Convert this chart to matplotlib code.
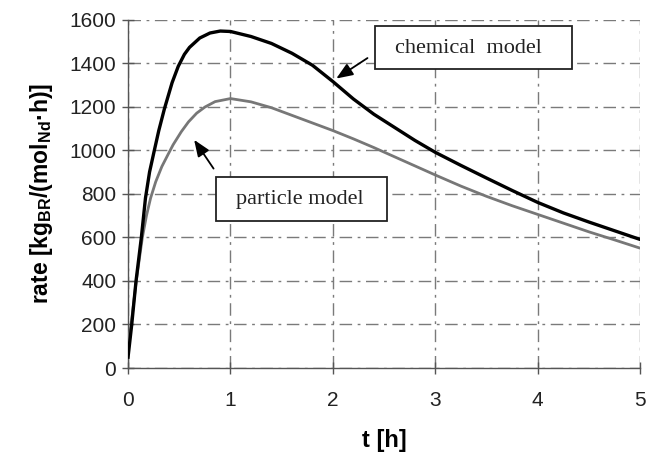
import matplotlib
matplotlib.use("Agg")
import matplotlib.pyplot as plt
from matplotlib.patches import Rectangle

plt.rcParams['font.family'] = 'Liberation Sans'
plt.rcParams['mathtext.fontset'] = 'custom'
plt.rcParams['mathtext.rm'] = 'Liberation Sans:bold'
plt.rcParams['mathtext.bf'] = 'Liberation Sans:bold'
plt.rcParams['mathtext.default'] = 'bf'

# tempo de reacao [h] e taxa para o modelo quimico
t_chem = [0, 0.036, 0.078, 0.13, 0.17, 0.21, 0.257, 0.3, 0.355, 0.43, 0.49, 0.55, 0.6,
          0.7, 0.8, 0.9, 1.0, 1.2, 1.4, 1.6, 1.8, 2.0, 2.2, 2.4, 2.6, 2.8, 3.0, 3.25,
          3.5, 3.75, 4.0, 4.25, 4.5, 4.75, 5.0]
rate_chem = [50, 200, 400, 600, 780, 900, 1000, 1090, 1190, 1310, 1385, 1440, 1472,
             1515, 1538, 1547, 1545, 1522, 1490, 1445, 1390, 1315, 1235, 1165, 1105, 1045, 990, 930,
             872, 815, 760, 712, 670, 630, 590]

# modelo de particula
t_part = [0, 0.03, 0.08, 0.14, 0.18, 0.22, 0.27, 0.33, 0.39, 0.44, 0.52, 0.59, 0.67,
          0.75, 0.85, 1.0, 1.2, 1.4, 1.6, 1.8, 2.0, 2.2, 2.4, 2.6, 2.8, 3.0, 3.25,
          3.5, 3.75, 4.0, 4.25, 4.5, 4.75, 5.0]
rate_part = [100, 200, 400, 600, 700, 780, 855, 925, 980, 1025, 1085, 1130, 1170,
             1198, 1223, 1237, 1222, 1195, 1160, 1125, 1090, 1052, 1012, 970, 928, 886, 835,
             788, 745, 705, 665, 625, 588, 550]

xticks = [0, 1, 2, 3, 4, 5]
yticks = [0, 200, 400, 600, 800, 1000, 1200, 1400, 1600]

fig = plt.figure(figsize=(6.5, 4.61), dpi=100)
ax = fig.add_axes([0.197, 0.2017, 0.788, 0.756])

# grade tracejada estilo "traço longo-ponto"
ax.grid(True, color='#7a7a7a', linewidth=1.0, linestyle=(0, (9, 4, 2, 4)))
ax.set_axisbelow(True)

ax.plot(t_part, rate_part, color='#777777', linewidth=2.0, zorder=3)
ax.plot(t_chem, rate_chem, color='black', linewidth=2.4, zorder=4)

ax.set_xlim(0, 5)
ax.set_ylim(0, 1600)
ax.set_xticks(xticks)
ax.set_yticks(yticks)

for lado in ['top', 'right']:
    ax.spines[lado].set_visible(False)
for lado in ['left', 'bottom']:
    ax.spines[lado].set_color('#555555')
    ax.spines[lado].set_linewidth(1.0)

ax.tick_params(direction='inout', length=9, width=1.0, color='#555555',
               labelsize=15, labelcolor='#222222', pad=4)
ax.tick_params(axis='x', pad=12)

ax.set_xlabel('t [h]', fontsize=17, fontweight='bold', labelpad=14)
ax.set_ylabel('rate [kg$_{BR}$/(mol$_{Nd}$·h)]', fontsize=16.5, fontweight='bold', labelpad=10)

# caixas com os nomes dos modelos
ax.add_patch(Rectangle((2.41, 1371), 1.92, 199, facecolor='white', edgecolor='#222222',
                       linewidth=1.3, zorder=6))
ax.text(3.32, 1468, 'chemical  model', ha='center', va='center', fontsize=16,
        family='Liberation Serif', color='#222222', zorder=7)
ax.add_patch(Rectangle((0.86, 676), 1.67, 202, facecolor='white', edgecolor='#222222',
                       linewidth=1.3, zorder=6))
ax.text(1.68, 774, 'particle model', ha='center', va='center', fontsize=16,
        family='Liberation Serif', color='#222222', zorder=7)

seta = dict(arrowstyle='-|>,head_length=1.0,head_width=0.4', color='black', linewidth=1.3)
ax.annotate('', xy=(2.01, 1322), xytext=(2.36, 1430), arrowprops=seta, zorder=6)
ax.annotate('', xy=(0.63, 1058), xytext=(0.85, 905), arrowprops=seta, zorder=6)

fig.savefig('out.png', dpi=100)
